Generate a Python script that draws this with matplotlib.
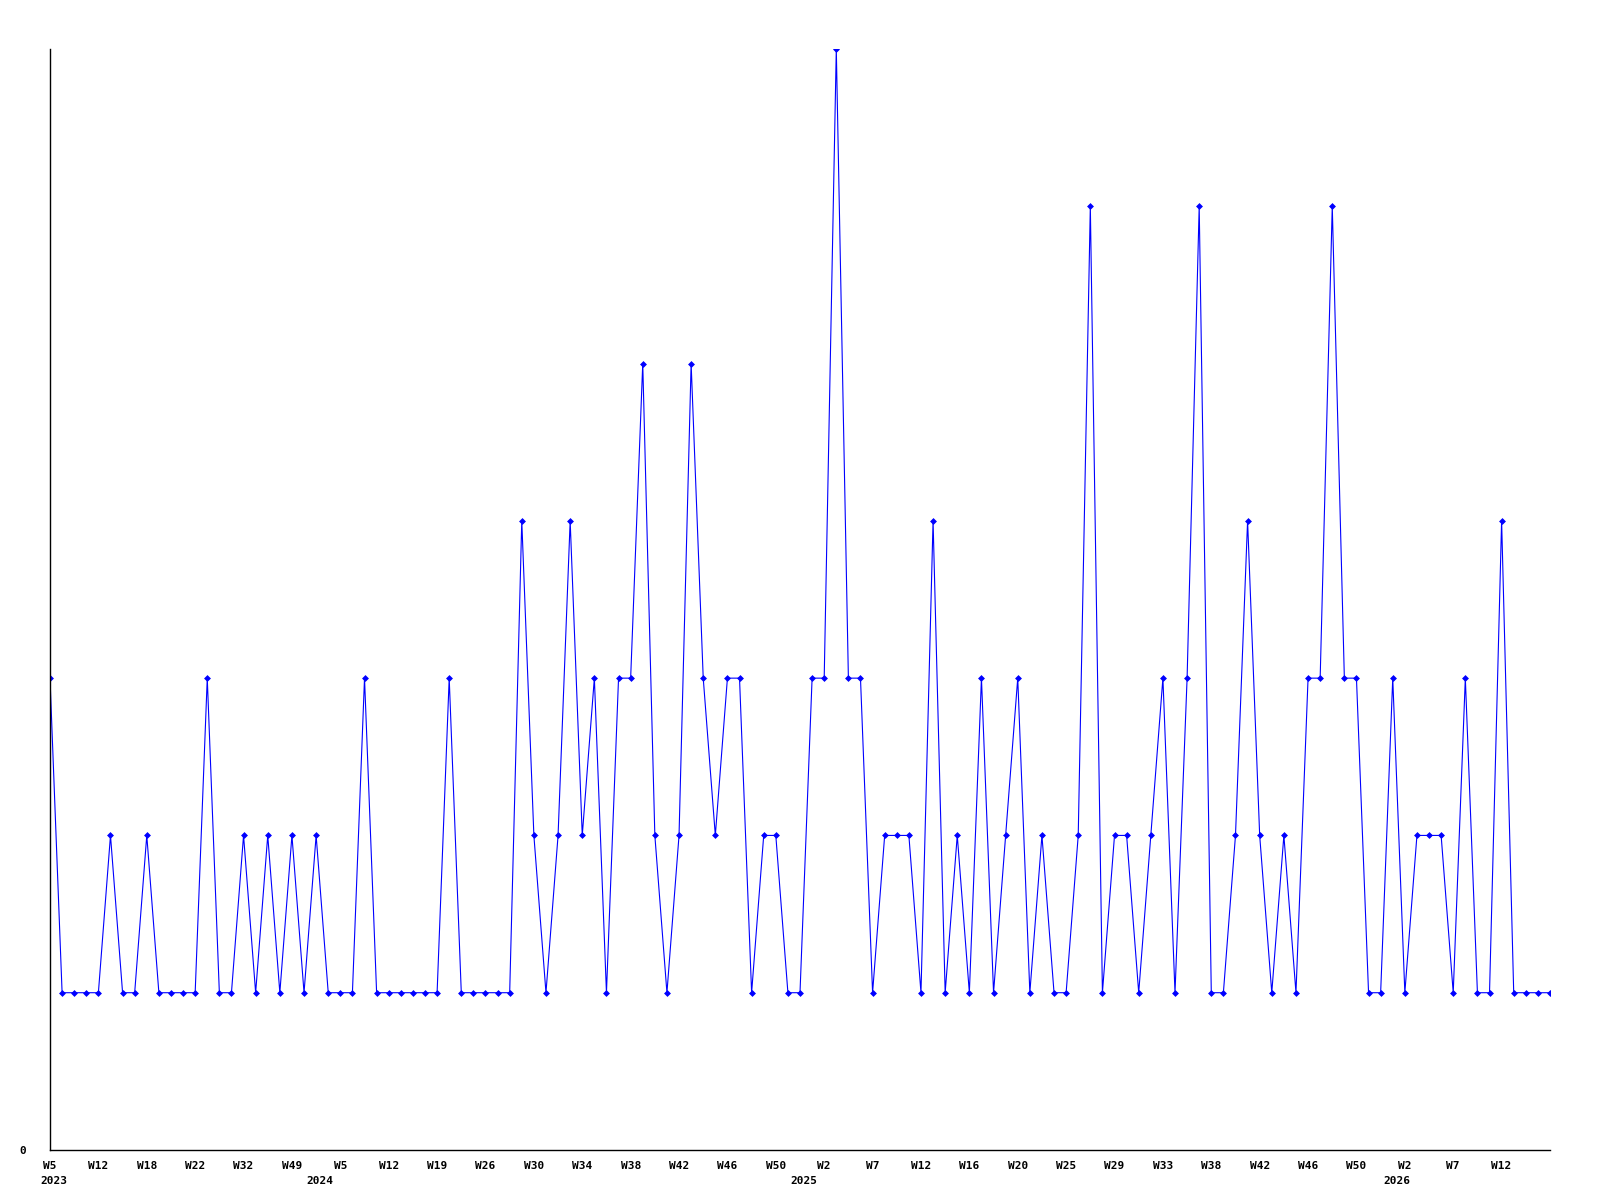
import matplotlib
matplotlib.use("Agg")
import matplotlib.pyplot as plt

# weekly counts, one point per week that has data
counts = [3, 1, 1, 1, 1, 2, 1, 1, 2, 1, 1, 1, 1, 3, 1, 1, 2, 1, 2, 1,
          2, 1, 2, 1, 1, 1, 3, 1, 1, 1, 1, 1, 1, 3, 1, 1, 1, 1, 1, 4,
          2, 1, 2, 4, 2, 3, 1, 3, 3, 5, 2, 1, 2, 5, 3, 2, 3, 3, 1, 2,
          2, 1, 1, 3, 3, 7, 3, 3, 1, 2, 2, 2, 1, 4, 1, 2, 1, 3, 1, 2,
          3, 1, 2, 1, 1, 2, 6, 1, 2, 2, 1, 2, 3, 1, 3, 6, 1, 1, 2, 4,
          2, 1, 2, 1, 3, 3, 6, 3, 3, 1, 1, 3, 1, 2, 2, 2, 1, 3, 1, 1,
          4, 1, 1, 1, 1]

# labels shown on every 4th point
week_labels = ["W5", "W12", "W18", "W22", "W32", "W49",
               "W5", "W12", "W19", "W26", "W30", "W34", "W38", "W42",
               "W46", "W50",
               "W2", "W7", "W12", "W16", "W20", "W25", "W29", "W33",
               "W38", "W42", "W46", "W50",
               "W2", "W7", "W12"]
label_step = 4

# year captions and the point index where each year starts
years = ["2023", "2024", "2025", "2026"]
year_start = [0, 24, 64, 112]
year_shift = [2.5, -15, -14.5, -6]   # points, as placed in the original

xs = list(range(len(counts)))
mono = "DejaVu Sans Mono"

fig = plt.figure(figsize=(16, 12), dpi=100)
ax = fig.add_axes([50/1600, 1 - 1150/1200, 1500/1600, (1150 - 49)/1200])

ax.plot(xs, counts, color="#0000ff", linewidth=0.8,
        marker="D", markersize=3, markeredgewidth=0.5)

ax.set_xlim(0, len(counts) - 1)
ax.set_ylim(0, 7)

ax.spines["top"].set_visible(False)
ax.spines["right"].set_visible(False)
ax.spines["left"].set_linewidth(1.0)
ax.spines["bottom"].set_linewidth(1.0)

ax.set_xticks(xs[:len(week_labels) * label_step:label_step])
ax.set_xticklabels(week_labels, family=mono, fontweight="bold", fontsize=8)
ax.set_yticks([0])
ax.set_yticklabels(["0"], family=mono, fontweight="bold", fontsize=8)
ax.tick_params(axis="x", length=0, pad=8)
ax.tick_params(axis="y", length=0, pad=17)

for yr, i0, dx in zip(years, year_start, year_shift):
    ax.annotate(yr, xy=(xs[i0], 0), xycoords=("data", "axes fraction"),
                xytext=(dx, -22), textcoords="offset points",
                ha="center", va="center", family=mono,
                fontweight="bold", fontsize=8, annotation_clip=False)

fig.savefig("out.png", dpi=100, facecolor="white")
